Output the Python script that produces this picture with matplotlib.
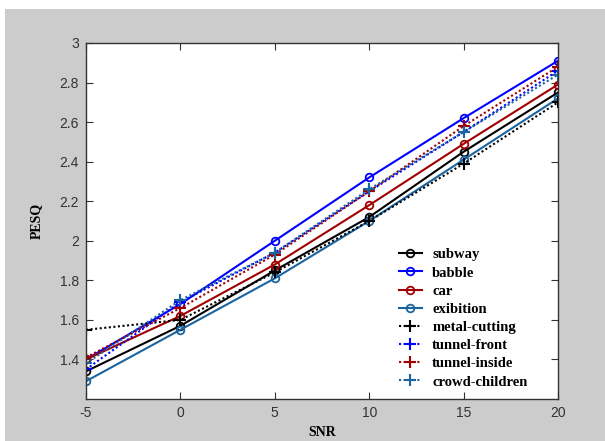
import matplotlib.pyplot as plt
from matplotlib.patches import Rectangle

plt.rcParams["axes.unicode_minus"] = False

# SNR levels (dB) and PESQ scores per noise type
snr = [-5, 0, 5, 10, 15, 20]
subway = [1.34, 1.57, 1.85, 2.12, 2.45, 2.75]
babble = [1.40, 1.68, 2.00, 2.32, 2.62, 2.91]
car = [1.40, 1.62, 1.88, 2.18, 2.49, 2.79]
exibition = [1.29, 1.55, 1.81, 2.10, 2.41, 2.72]
metal_cutting = [1.55, 1.60, 1.84, 2.10, 2.39, 2.70]
tunnel_front = [1.35, 1.69, 1.94, 2.25, 2.55, 2.86]
tunnel_inside = [1.41, 1.66, 1.93, 2.25, 2.58, 2.88]
crowd_children = [1.38, 1.70, 1.94, 2.26, 2.55, 2.84]

black = "black"
blue = "#0000ff"
red = "#a00000"
steel = "#1a64a0"

fig = plt.figure(figsize=(6.05, 4.41), dpi=100, facecolor="white")
# grey figure panel (white strip at top and left)
fig.patches.append(Rectangle((5 / 605, 0), 600 / 605, 432 / 441,
                             transform=fig.transFigure, facecolor="#cccccc",
                             edgecolor="none", zorder=-1))

ax = fig.add_axes([86 / 605, 42 / 441, 472 / 605, 356 / 441])

solid = dict(linestyle="-", marker="o", markersize=5.5, markerfacecolor="none",
             markeredgewidth=1.3, linewidth=1.5)
dotted = dict(linestyle=(0, (1, 1.2)), marker="+", markersize=8,
              markeredgewidth=1.5, linewidth=1.5)

ax.plot(snr, subway, color=black, label="subway", **solid)
ax.plot(snr, babble, color=blue, label="babble", **solid)
ax.plot(snr, car, color=red, label="car", **solid)
ax.plot(snr, exibition, color=steel, label="exibition", **solid)
ax.plot(snr, metal_cutting, color=black, label="metal-cutting", **dotted)
ax.plot(snr, tunnel_front, color=blue, label="tunnel-front", **dotted)
ax.plot(snr, tunnel_inside, color=red, label="tunnel-inside", **dotted)
ax.plot(snr, crowd_children, color=steel, label="crowd-children", **dotted)

ax.set_xlim(-5, 20)
ax.set_ylim(1.2, 3)
ax.set_xticks([-5, 0, 5, 10, 15, 20])
ax.set_yticks([1.4, 1.6, 1.8, 2, 2.2, 2.4, 2.6, 2.8, 3])
ax.set_yticklabels(["1.4", "1.6", "1.8", "2", "2.2", "2.4", "2.6", "2.8", "3"])
ax.tick_params(direction="in", length=5, labelsize=10, colors="#333333",
               labelcolor="#333333", top=True, right=True, pad=5)
for lab in ax.get_xticklabels() + ax.get_yticklabels():
    lab.set_family("Liberation Sans")
for s in ax.spines.values():
    s.set_color("#333333")
    s.set_linewidth(1.0)

ax.set_xlabel("SNR", fontsize=10, fontweight="bold", family="Liberation Serif",
              labelpad=4)
ax.set_ylabel("PESQ", fontsize=10, fontweight="bold", family="Liberation Serif",
              labelpad=12)

ax.legend(loc="upper left", bbox_to_anchor=(0.65, 0.44), frameon=False,
          prop={"family": "Liberation Serif", "weight": "bold", "size": 10.5},
          handlelength=1.6, handletextpad=0.7, labelspacing=0.34,
          borderaxespad=0)

fig.savefig("out.png", dpi=100, facecolor=fig.get_facecolor())
